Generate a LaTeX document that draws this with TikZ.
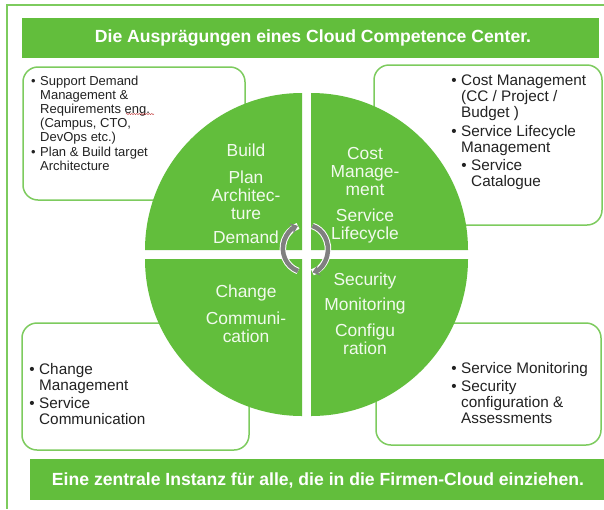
\documentclass[tikz,border=0pt]{standalone}
\usepackage{fontspec}
\setmainfont{Liberation Sans}
\usetikzlibrary{arrows.meta,decorations.pathmorphing}
\definecolor{ccgreen}{HTML}{62BE3C}
\definecolor{ccline}{HTML}{7DCB5E}
\definecolor{cctext}{HTML}{222222}
\definecolor{ccgray}{HTML}{808080}
\definecolor{ccwhite}{HTML}{F2FAEE}
\newcommand{\bul}{\llap{•\hspace{4.5pt}}}
\newcommand{\subbul}{\hspace{10pt}\llap{•\hspace{4.5pt}}}
\tikzset{
  x=1pt,y=-1pt,
  banner/.style={fill=ccgreen,draw=none},
  bannertext/.style={text=white,font=\bfseries\fontsize{17.6}{20}\selectfont,inner sep=0pt},
  infobox/.style={draw=ccline,line width=1.5pt,fill=white,rounded corners=15pt},
  quadrant/.style={fill=ccgreen,draw=none},
  smalllist/.style={anchor=north west,align=left,inner sep=0pt,text=cctext,font=\fontsize{13}{14}\selectfont},
  biglist/.style={anchor=north west,align=left,inner sep=0pt,text=cctext,font=\fontsize{15.3}{16}\selectfont},
  sector/.style={align=center,inner sep=0pt,text=ccwhite,font=\fontsize{17.4}{18}\selectfont},
  ringback/.style={draw=white,line width=6.5pt},
  ring/.style={draw=ccgray,line width=4.5pt}
}
\begin{document}
\begin{tikzpicture}
\useasboundingbox (0,0) rectangle (604,509);
\fill[white] (0,0) rectangle (604,509);
% outer frame
\draw[ccline,line width=1.4pt] (604,5) -- (7,5) -- (7,509);
% banners
\fill[banner] (22,18) rectangle (599,58);
\node[bannertext] (title) at (313,38) {Die Ausprägungen eines Cloud Competence Center.};
\fill[banner] (30,459) rectangle (604,500);
\node[bannertext] (foot) at (318,480) {Eine zentrale Instanz für alle, die in die Firmen-Cloud einziehen.};
% boxes
\draw[infobox] (23,67) rectangle (245,200);
\draw[infobox] (374,65) rectangle (602,225);
\draw[infobox] (22,323) rectangle (249,450);
\draw[infobox] (376,323) rectangle (601,445);
% quadrants
\fill[quadrant] (302,250) -- (145,250) arc[start angle=180,end angle=270,radius=157] -- cycle;
\fill[quadrant] (311,250) -- (311,93) arc[start angle=270,end angle=360,radius=157] -- cycle;
\fill[quadrant] (302,259) -- (302,416) arc[start angle=90,end angle=180,radius=157] -- cycle;
\fill[quadrant] (311,259) -- (468,259) arc[start angle=0,end angle=90,radius=157] -- cycle;
% box texts
\node[smalllist] (tl) at (40,76) {\bul Support Demand\\Management \&\\Requirements eng.\\(Campus, CTO,\\DevOps etc.)\\[1pt]\bul Plan \& Build target\\Architecture};
\draw[red!70!black,line width=.35pt,decorate,decoration={snake,amplitude=.5pt,segment length=2.5pt}] (126,114) -- (154,114);
\node[biglist] (tr) at (461,75) {\bul Cost Management\\(CC / Project /\\Budget )\\[2.5pt]\bul Service Lifecycle\\Management\\[2pt]\subbul Service\\\hspace{10pt}Catalogue};
\node[biglist] (bl) at (39,363) {\bul Change\\Management\\[2pt]\bul Service\\Communication};
\node[biglist] (br) at (461,362) {\bul Service Monitoring\\[2pt]\bul Security\\configuration \&\\Assessments};
% sector texts
\node[sector] (s1) at (246,150) {Build};
\node[sector] (s2) at (246,195) {Plan\\Architec-\\ture};
\node[sector] (s3) at (246,237) {Demand};
\node[sector] (s4) at (365,172) {Cost\\Manage-\\ment};
\node[sector] (s5) at (365,226) {Service\\Lifecycle};
\node[sector] (s6) at (246,293) {Change};
\node[sector] (s7) at (246,327) {Communi-\\cation};
\node[sector] (s8) at (365,281) {Security};
\node[sector] (s9) at (365,306) {Monitoring};
\node[sector] (s10) at (365,339) {Configu\\ration};
% cycle arrows
\draw[ringback] (298,271) arc[start angle=110,end angle=250,x radius=23,y radius=24];
\draw[ringback] (312.4,226) arc[start angle=-75,end angle=75,x radius=21,y radius=24];
\draw[ring,-{Stealth[length=7pt,width=11pt]}] (298,271) arc[start angle=110,end angle=250,x radius=23,y radius=24];
\draw[ring,-{Stealth[length=7pt,width=11pt]}] (312.4,226) arc[start angle=-75,end angle=75,x radius=21,y radius=24];
\end{tikzpicture}
\end{document}
